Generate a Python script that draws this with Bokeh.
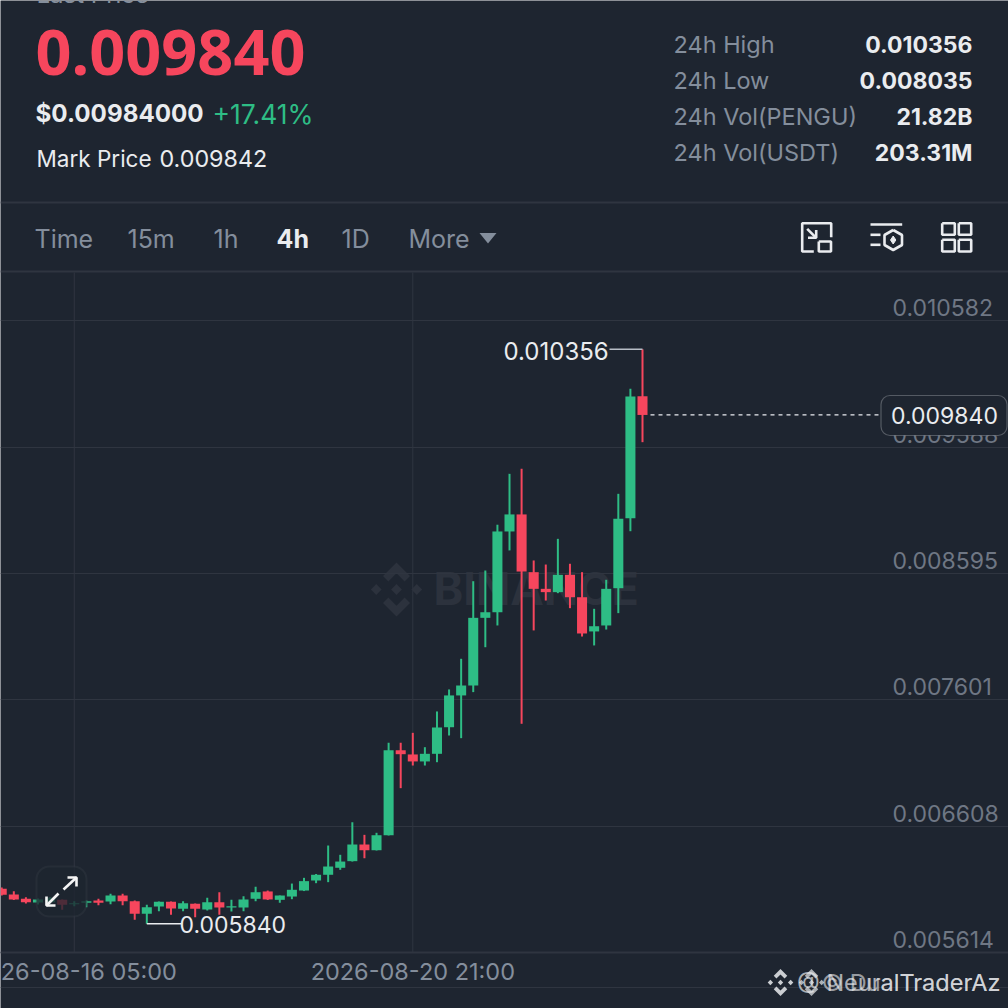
from bokeh.plotting import figure
from bokeh.models import (Range1d, ColumnDataSource, LinearAxis, FixedTicker, Grid,
                          Label, BoxAnnotation, PolyAnnotation)
from bokeh.core.properties import value
from bokeh.embed import file_html
from bokeh.resources import INLINE

# ---- data (oldest to newest, 4h candles) ----
opens = [.006115,.006070,.006036,.006007,.006009,.006028,.005994,.006005,.006023,.006015,.006062,.006017,.005918,.005976,
         .006013,.005958,.005997,.005952,.006009,.005968,.005968,.006036,.006094,.006028,.006054,.006101,.006180,.006225,
         .006280,.006332,.006463,.006418,.006536,.007204,.007171,.007116,.007176,.007385,.007635,.007713,.008245,.008289,
         .008924,.009058,.008604,.008473,.008447,.008583,.008407,.008138,.008185,.008478,.009028,.009987]
closes = [.006068,.006031,.006009,.006031,.006044,.005989,.006002,.006017,.006005,.006062,.006017,.005918,.005970,.006013,
          .005960,.006002,.005958,.006009,.005968,.005978,.006031,.006088,.006031,.006062,.006107,.006175,.006225,.006290,
          .006329,.006463,.006418,.006536,.007204,.007173,.007116,.007176,.007383,.007635,.007713,.008245,.008289,.008924,
          .009058,.008609,.008473,.008447,.008583,.008407,.008122,.008179,.008473,.009024,.009985,.009840]
highs = [.006125,.006096,.006049,.006039,.006050,.006031,.006017,.006023,.006036,.006075,.006075,.006023,.005989,.006015,
         .006015,.006017,.005999,.006044,.006088,.006028,.006057,.006131,.006101,.006062,.006156,.006201,.006231,.006455,
         .006382,.006638,.006539,.006555,.007263,.007263,.007341,.007228,.007509,.007682,.007923,.008533,.008617,.008977,
         .009377,.009417,.008696,.008664,.008866,.008670,.008604,.008316,.008544,.009220,.010046,.010356]
lows = [.006062,.006027,.005999,.005991,.005999,.005950,.005978,.005970,.005986,.005994,.005986,.005871,.005840,.005939,
        .005910,.005939,.005892,.005944,.005910,.005936,.005939,.006017,.006027,.006005,.006033,.006097,.006159,.006167,
        .006264,.006329,.006355,.006416,.006534,.006906,.007084,.007084,.007110,.007320,.007299,.007661,.008014,.008185,
        .008775,.007412,.008146,.008381,.008439,.008321,.008098,.008028,.008153,.008282,.008926,.009626]
candle_index = list(range(54))
y_ticks = [0.005614, 0.006608, 0.007601, 0.008595, 0.009588, 0.010582]
y_tick_labels = ["0.005614", "0.006608", "0.007601", "0.008595", "0.009588", "0.010582"]
x_ticks = [6, 34]
x_tick_labels = ["2026-08-16 05:00", "2026-08-20 21:00"]
tabs = [("Time", 34), ("15m", 127), ("1h", 213), ("4h", 276), ("1D", 341), ("More", 408)]
stats = [("24h High", "0.010356"), ("24h Low", "0.008035"), ("24h Vol(PENGU)", "21.82B"), ("24h Vol(USDT)", "203.31M")]
last_price = 0.009840
day_high = 0.010356
day_low = 0.005840

BG, GREEN, RED = "#1e2530", "#2ebd85", "#f6465d"
LINE, GRAY, LIGHT, FONT = "#2f3540", "#848e9c", "#eaecef", "Inter"
W = H = 1008

# pixel <-> data helpers, used for chrome only
def X(px): return (px - 1.23) / 12.09
def Y(py): return 0.005614 + (952 - py) / 127200

p = figure(width=W, height=H, output_backend="svg", toolbar_location=None, min_border=0,
           x_range=Range1d(X(0), X(W)), y_range=Range1d(Y(H), Y(0)),
           x_axis_location=None, y_axis_location=None,
           background_fill_color=BG, border_fill_color=BG, outline_line_color=None)
p.xgrid.visible = False
p.ygrid.visible = False

p.add_layout(Grid(dimension=1, ticker=FixedTicker(ticks=y_ticks), grid_line_color=LINE, grid_line_width=1))
p.segment(x0=x_ticks, x1=x_ticks, y0=[Y(952)]*2, y1=[Y(272)]*2, line_color=LINE, line_width=1, level="underlay")

# Y tick labels sit just above their grid lines
p.text(x=[X(892)]*6, y=y_ticks, text=y_tick_labels, y_offset=-13, text_font=value(FONT), text_font_size="23px",
       text_color="#6f7784", text_baseline="middle", level="underlay")

# X axis line; its labels are centred on the ticks and run off the canvas as in the original
xax = LinearAxis(fixed_location=Y(952), ticker=FixedTicker(ticks=x_ticks), axis_line_color=LINE, axis_line_width=2,
                 major_tick_line_color=None, minor_tick_line_color=None, major_tick_in=0, major_tick_out=0,
                 minor_tick_in=0, minor_tick_out=0, major_label_text_color=None)
p.add_layout(xax, "below")
p.text(x=x_ticks, y=[Y(971)]*2, text=x_tick_labels, text_font=value(FONT), text_font_size="23.5px",
       text_color=GRAY, text_align="center", text_baseline="middle")

# header separators
p.segment(x0=[X(0)]*3, x1=[X(W)]*3, y0=[Y(202), Y(271), Y(987)], y1=[Y(202), Y(271), Y(987)],
          line_color=LINE, line_width=[2, 2, 1], level="underlay")

def logo(cx, cy, s, color, alpha=1.0, level="underlay"):
    unit = [
        [(0,-1),(.5,-.5),(.3,-.3),(0,-.6),(-.3,-.3),(-.5,-.5)],
        [(0,1),(.5,.5),(.3,.3),(0,.6),(-.3,.3),(-.5,.5)],
        [(0,-.2),(.2,0),(0,.2),(-.2,0)],
        [(-.75,-.2),(-.55,0),(-.75,.2),(-.95,0)],
        [(.75,-.2),(.95,0),(.75,.2),(.55,0)],
    ]
    p.patches(xs=[[X(cx + a*s) for a, b in u] for u in unit],
              ys=[[Y(cy + b*s) for a, b in u] for u in unit],
              fill_color=color, fill_alpha=alpha, line_color=None, level=level)

# centre watermark
logo(396, 589, 27, "#2c323d")
p.text(x=[X(433)], y=[Y(588)], text=["BINANCE"], text_font=value(FONT), text_font_style="bold",
       text_font_size="45px", text_color="#2c323d", text_baseline="middle", level="underlay")

# candles
colors = [GREEN if c >= o else RED for o, c in zip(opens, closes)]
src = ColumnDataSource(dict(i=candle_index, o=opens, c=closes, h=highs, l=lows, color=colors))
p.segment("i", "h", "i", "l", source=src, line_color="color", line_width=2)
p.vbar("i", width=0.83, top="o", bottom="c", source=src, fill_color="color", line_color=None)

# low / high markers, last price
last_i = candle_index[-1]
low_i = candle_index[lows.index(min(lows))]
p.line([low_i, X(181)], [day_low, day_low], line_color=LIGHT, line_width=1.5)
p.line([X(609), last_i], [day_high, day_high], line_color="#b7bdc6", line_width=1.5)
p.line([X(650), X(880)], [last_price, last_price], line_color="#eaecef", line_width=1.2, line_dash="4 4")

def lab(text, x, y, size, color=LIGHT, style="normal", align="left", alpha=1.0, font=FONT):
    p.add_layout(Label(x=X(x), y=Y(y), text=text, text_font=font, text_font_size=f"{size}px",
                       text_color=color, text_font_style=style, text_align=align,
                       text_baseline="middle", text_alpha=alpha))

lab(f"{day_high:.6f}", 503, 350, 24)
lab(f"{day_low:.6f}", 179, 924, 23)

# price tag
p.add_layout(BoxAnnotation(left=X(880.5), right=X(1006.5), top=Y(395), bottom=Y(435), fill_color=BG, fill_alpha=1,
                           line_color="#d5d8dc", line_width=1.2, border_radius=9))
lab(f"{last_price:.6f}", 944, 415, 23, align="center")

# expand button
p.add_layout(BoxAnnotation(left=X(36), right=X(86), top=Y(866), bottom=Y(916), fill_color=BG, fill_alpha=0.78,
                           line_color="#3d434d", line_width=2, border_radius=13))
arrows = [[(63,889),(76,877)], [(67,877),(76,877),(76,886)], [(58,893),(46,905)], [(46,896),(46,905),(55,905)]]
p.multi_line([[X(a) for a, b in s] for s in arrows], [[Y(b) for a, b in s] for s in arrows],
             line_color="#f5f5f5", line_width=2.6, level="overlay")

# header text
lab("Last Price", 36, -6, 24, GRAY)
lab(f"{last_price:.6f}", 35, 52, 63, RED, "bold", font="Noto Sans")
lab("$0.00984000", 35, 113, 24.2, LIGHT, "bold")
lab("+17.41%", 212, 113, 26.5, GREEN)
lab("Mark Price", 36, 158, 22.5)
lab("0.009842", 159, 158, 23.3)
for n, (name, val) in enumerate(stats):
    lab(name, 673, 44 + 36*n, 23.5, GRAY)
    lab(val, 972, 44 + 36*n, 23, LIGHT, "bold", "right")
for name, x in tabs:
    lab(name, x, 238, 25, LIGHT if name == "4h" else GRAY, "bold" if name == "4h" else "normal")
p.add_layout(PolyAnnotation(xs=[X(479), X(496), X(487.5)], ys=[Y(232.5), Y(232.5), Y(243)],
                            fill_color=GRAY, fill_alpha=1, line_color=None))

# icons
def sq(a, b, c, d): return [(a,b),(c,b),(c,d),(a,d),(a,b)]
icons = [
    [(813.3,251),(801.7,251),(801.7,222.7),(830.7,222.7),(830.7,236.7)],
    sq(818.3,241,830.5,251),
    [(806.7,228.3),(815.7,237.3)], [(815.7,229.5),(815.7,237.3),(807.5,237.3)],
    [(870,224),(901.7,224)], [(870,234.3),(880,234.3)], [(870,244.3),(880,244.3)],
    [(892.7,229.5),(901.5,234.5),(901.5,244.5),(892.7,249.5),(884,244.5),(884,234.5),(892.7,229.5)],
    sq(941.7,222.7,954.3,234.3), sq(958.3,222.7,970.7,234.3),
    sq(941.7,239.3,954.3,251), sq(958.3,239.3,970.7,251),
]
p.multi_line([[X(a) for a, b in s] for s in icons], [[Y(b) for a, b in s] for s in icons],
             line_color=LIGHT, line_width=2.6, level="overlay")
p.scatter([X(892.7)], [Y(239.5)], marker="diamond", size=8, color=LIGHT, level="overlay")

# bottom-right watermarks
logo(780, 982, 13.5, "#eaecef", 0.85, "overlay")
logo(811, 982, 13.5, "#eaecef", 0.7, "overlay")
lab("@ NeuralTraderAz", 1000, 982, 23.5, "#eaecef", align="right", alpha=0.7)
lab("© DualTraderAz", 1000, 982, 23.5, "#eaecef", align="right", alpha=0.6)

open("out.html", "w").write(file_html(p, INLINE))
